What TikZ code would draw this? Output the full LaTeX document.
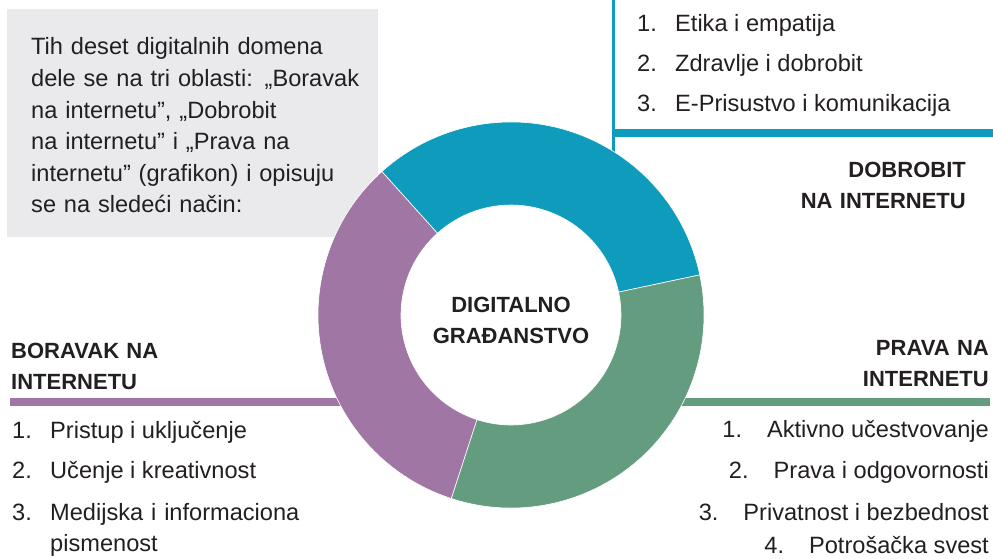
\documentclass[tikz,border=0pt]{standalone}
\usepackage{fontspec}
\setmainfont{Liberation Sans}
\definecolor{ink}{HTML}{231F20}
\definecolor{boxgray}{HTML}{EAEAEC}
\definecolor{tealseg}{HTML}{0E9BBC}
\definecolor{lilaseg}{HTML}{A076A5}
\definecolor{greenseg}{HTML}{649C80}

\begin{document}
\begin{tikzpicture}[x=1pt,y=-1pt,line cap=butt]
	\tikzstyle{seg}=[line width=0.6pt,draw=white];
	\tikzstyle{bar}=[line width=8pt];
	\tikzstyle{txt}=[inner sep=0pt,text=ink,font=\fontsize{23.6}{31.6}\selectfont];
	\tikzstyle{head}=[inner sep=0pt,text=ink,font=\fontsize{22}{31}\selectfont\bfseries];
	\useasboundingbox (0,0) rectangle (993,559);

	% intro box
	\fill[boxgray] (7,9) rectangle (378,237);
	\node[txt,anchor=base west,text width=345pt,align=left] (intro) at (31,55)
		{Tih deset digitalnih domena\\dele se na tri oblasti: „Boravak\\na internetu”, „Dobrobit\\na internetu” i „Prava na\\internetu” (grafikon) i opisuju\\se na sledeći način:};

	% bars behind the ring
	\coordinate (tealtop) at (613.5,0);
	\coordinate (tealend) at (993,133);
	\draw[tealseg,line width=2.5pt] (tealtop) -- (613.5,200);
	\draw[tealseg,bar] (612,133) -- (tealend);
	\draw[lilaseg,bar] (10,402) -- (380,402);
	\draw[greenseg,bar] (640,402) -- (990,402);

	% ring
	\begin{scope}[shift={(511,315)}]
		\draw[seg,fill=tealseg] (-12:193) arc[start angle=-12,end angle=-132,radius=193]
			-- (-132:110) arc[start angle=-132,end angle=-12,radius=110] -- cycle;
		\draw[seg,fill=lilaseg] (-132:193) arc[start angle=-132,end angle=-252,radius=193]
			-- (-252:110) arc[start angle=-252,end angle=-132,radius=110] -- cycle;
		\draw[seg,fill=greenseg] (-252:193) arc[start angle=-252,end angle=-372,radius=193]
			-- (-372:110) arc[start angle=-372,end angle=-252,radius=110] -- cycle;
	\end{scope}
	\node[head,anchor=base,text width=220pt,align=center] (center) at (511,312) {DIGITALNO\\GRAĐANSTVO};

	% dobrobit na internetu
	\node[txt,anchor=base west] (e1) at (637,32)  {\makebox[38pt][l]{1.}Etika i empatija};
	\node[txt,anchor=base west] (e2) at (637,72)  {\makebox[38pt][l]{2.}Zdravlje i dobrobit};
	\node[txt,anchor=base west] (e3) at (637,112) {\makebox[38pt][l]{3.}E-Prisustvo i komunikacija};
	\node[head,anchor=base east,text width=300pt,align=right] (dobrobit) at (966,177) {DOBROBIT\\NA INTERNETU};

	% boravak na internetu
	\node[head,anchor=base west,text width=300pt,align=left] (boravak) at (11,358) {BORAVAK NA\\INTERNETU};
	\node[txt,anchor=base west] (b1) at (12,438) {\makebox[38pt][l]{1.}Pristup i uključenje};
	\node[txt,anchor=base west] (b2) at (12,478) {\makebox[38pt][l]{2.}Učenje i kreativnost};
	\node[txt,anchor=base west,text width=330pt,align=left] (b3) at (12,520)
		{\makebox[38pt][l]{3.}Medijska i informaciona\\\hspace*{38pt}pismenost};

	% prava na internetu
	\node[head,anchor=base east,text width=300pt,align=right] (prava) at (989,355) {PRAVA NA\\INTERNETU};
	\node[txt,anchor=base east] (p1) at (989,437) {1.\hspace{25pt}Aktivno učestvovanje};
	\node[txt,anchor=base east] (p2) at (989,478) {2.\hspace{25pt}Prava i odgovornosti};
	\node[txt,anchor=base east] (p3) at (989,520) {3.\hspace{25pt}Privatnost i bezbednost};
	\node[txt,anchor=base east] (p4) at (989,553) {4.\hspace{25pt}Potrošačka svest};
\end{tikzpicture}
\end{document}
